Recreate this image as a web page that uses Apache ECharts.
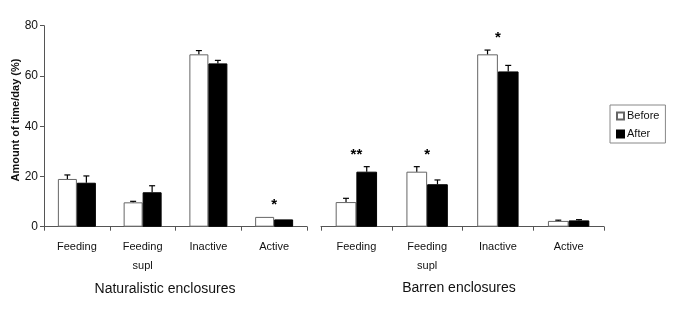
<!DOCTYPE html>
<html><head><meta charset="utf-8">
<script src="https://cdn.jsdelivr.net/npm/echarts@6/dist/echarts.min.js"></script>
<style>html,body{margin:0;padding:0;background:#fff}#c{width:690px;height:336px}</style>
</head><body><div id="c"></div>
<script>
const categoriesNat = ['Feeding', 'Feeding\nsupl', 'Inactive', 'Active'];
const categoriesBar = ['Feeding', 'Feeding\nsupl', 'Inactive', 'Active'];
const natBefore = [19.0, 9.7, 68.6, 3.9];
const natBeforeErr = [1.6, 0.4, 1.5, 0];
const natAfter = [17.5, 13.7, 65.0, 2.9];
const natAfterErr = [2.7, 2.6, 1.2, 0];
const barBefore = [9.8, 21.9, 68.6, 2.3];
const barBeforeErr = [1.5, 2.0, 1.7, 0.3];
const barAfter = [21.9, 16.9, 61.8, 2.5];
const barAfterErr = [2.0, 1.7, 2.4, 0.3];
const natSig = ['', '', '', '*'];
const barSig = ['**', '*', '*', ''];
const yTicks = [0, 20, 40, 60, 80];

const FONT = 'Liberation Sans, Arial, sans-serif';
const chart = echarts.init(document.getElementById('c'), null, {renderer: 'canvas'});

function errSeries(gi, before, bErr, after, aErr, sig, bw) {
  const data = before.map((v, i) => [i, v, bErr[i], after[i], aErr[i], sig[i]]);
  return {
    type: 'custom', xAxisIndex: gi, yAxisIndex: gi, z: 5, silent: true,
    data: data,
    renderItem: function (params, api) {
      const i = api.value(0);
      const children = [];
      const tops = [];
      [[1, 2, -1], [3, 4, 1]].forEach(function (d) {
        const v = api.value(d[0]), e = api.value(d[1]);
        const base = api.coord([i, v]);
        const x = base[0] + d[2] * bw / 2;
        const top = api.coord([i, v + e])[1];
        tops.push(top);
        if (e > 0) {
          children.push({type: 'line', shape: {x1: x, y1: base[1], x2: x, y2: top}, style: {stroke: '#000', lineWidth: 1.2}});
          children.push({type: 'line', shape: {x1: x - 3, y1: top, x2: x + 3, y2: top}, style: {stroke: '#000', lineWidth: 1.2}});
        }
      });
      const s = data[params.dataIndex][5];
      if (s) {
        const c = api.coord([i, 0])[0];
        children.push({type: 'text', x: c, y: Math.min.apply(null, tops) - 12,
          style: {text: s, fill: '#000', font: 'bold 15px ' + FONT, align: 'center', verticalAlign: 'middle'}});
      }
      return {type: 'group', children: children};
    }
  };
}

const xAxisCommon = {
  type: 'category',
  axisLine: {lineStyle: {color: '#555', width: 1}},
  axisTick: {show: true, length: 4, alignWithLabel: false, lineStyle: {color: '#555'}},
  axisLabel: {color: '#111', fontFamily: FONT, fontSize: 11, margin: 11, lineHeight: 19, interval: 0}
};

chart.setOption({
  animation: false,
  backgroundColor: '#fff',
  grid: [
    {left: 44, top: 25.7, width: 263, height: 201},
    {left: 321, top: 25.7, width: 283, height: 201}
  ],
  legend: {
    orient: 'vertical', left: 610, top: 105, width: 55,
    padding: [5, 6, 3, 6], itemGap: 6,
    borderColor: '#888', borderWidth: 1,
    itemWidth: 7, itemHeight: 7, icon: 'rect',
    textStyle: {fontFamily: FONT, fontSize: 11, lineHeight: 12, color: '#111', padding: [0, 0, 0, -2]},
    data: ['Before', 'After']
  },
  xAxis: [
    Object.assign({}, xAxisCommon, {gridIndex: 0, data: categoriesNat}),
    Object.assign({}, xAxisCommon, {gridIndex: 1, data: categoriesBar})
  ],
  yAxis: [
    {type: 'value', gridIndex: 0, min: yTicks[0], max: yTicks[yTicks.length - 1], interval: 20,
     axisLine: {show: true, lineStyle: {color: '#555'}},
     axisTick: {show: true, length: 4, lineStyle: {color: '#555'}},
     splitLine: {show: false},
     axisLabel: {color: '#111', fontFamily: FONT, fontSize: 12, margin: 6}},
    {type: 'value', gridIndex: 1, min: yTicks[0], max: yTicks[yTicks.length - 1], interval: 20, show: false, splitLine: {show: false}}
  ],
  graphic: [
    {type: 'text', x: 16, y: 120, rotation: Math.PI / 2,
     style: {text: 'Amount of time/day (%)', font: 'bold 11px ' + FONT, fill: '#111', align: 'center', verticalAlign: 'middle'}},
    {type: 'text', x: 165, y: 289,
     style: {text: 'Naturalistic enclosures', font: '14px ' + FONT, fill: '#111', align: 'center', verticalAlign: 'middle'}},
    {type: 'text', x: 459, y: 288,
     style: {text: 'Barren enclosures', font: '14px ' + FONT, fill: '#111', align: 'center', verticalAlign: 'middle'}}
  ],
  series: [
    {name: 'Before', type: 'bar', xAxisIndex: 0, yAxisIndex: 0, data: natBefore, barWidth: 19, barGap: '0%',
     itemStyle: {color: '#fff', borderColor: '#666', borderWidth: 1}},
    {name: 'After', type: 'bar', xAxisIndex: 0, yAxisIndex: 0, data: natAfter, barWidth: 19, barGap: '0%',
     itemStyle: {color: '#000', borderColor: '#000', borderWidth: 1}},
    {name: 'Before', type: 'bar', xAxisIndex: 1, yAxisIndex: 1, data: barBefore, barWidth: 20.7, barGap: '0%',
     itemStyle: {color: '#fff', borderColor: '#666', borderWidth: 1}},
    {name: 'After', type: 'bar', xAxisIndex: 1, yAxisIndex: 1, data: barAfter, barWidth: 20.7, barGap: '0%',
     itemStyle: {color: '#000', borderColor: '#000', borderWidth: 1}},
    errSeries(0, natBefore, natBeforeErr, natAfter, natAfterErr, natSig, 19),
    errSeries(1, barBefore, barBeforeErr, barAfter, barAfterErr, barSig, 20.7)
  ]
});
</script></body></html>
